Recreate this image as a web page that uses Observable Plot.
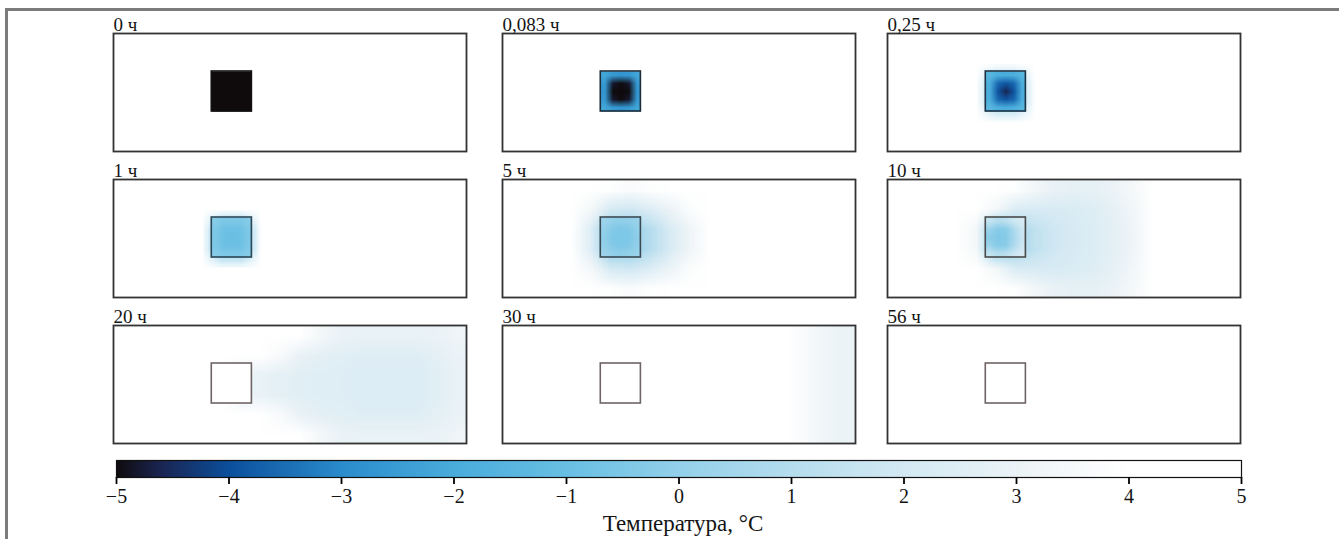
<!DOCTYPE html>
<html><head><meta charset="utf-8">
<script src="https://cdn.jsdelivr.net/npm/d3@7"></script>
<script src="https://cdn.jsdelivr.net/npm/@observablehq/plot@0.6"></script>
<style>
html,body{margin:0;padding:0;background:#fff;}
#page{position:relative;width:1339px;height:539px;overflow:hidden;background:#fff;font-family:"Liberation Serif",serif;}
#edge{position:absolute;left:5px;top:8px;width:1400px;height:600px;border-left:3px solid #7b7b7b;border-top:3px solid #7b7b7b;}
.cell{position:absolute;}
</style></head><body><div id="page"><div id="edge"></div></div>
<script>
// ---- data ----
const times = ["0 ч", "0,083 ч", "0,25 ч", "1 ч", "5 ч", "10 ч", "20 ч", "30 ч", "56 ч"];
const domainX = [0, 8.8];
const domainY = [0, 2.95];
const blockX = [2.45, 3.45];
const blockY = [0.95, 1.95];

// temperature field around block (18 columns x 6 rows, top to bottom), °C
const calm = [5,5,5,5,5,5,5,5,5,5,5,5,5,5,5,5,5,5];
const field0 = [calm, calm, calm, calm, calm, calm];
const field1 = [calm, calm,
  [5,5,5,5,5,4,4,5,5,5,5,5,5,5,5,5,5,5],
  [5,5,5,5,5,4,4,5,5,5,5,5,5,5,5,5,5,5],
  calm, calm];
const field2 = [calm, calm,
  [5,5,5,5,5,0.5,0.5,5,5,5,5,5,5,5,5,5,5,5],
  [5,5,5,5,5,0.5,0.5,5,5,5,5,5,5,5,5,5,5,5],
  calm, calm];
const field3 = [calm,
  [5,5,5,5,5,4.5,4.5,5,5,5,5,5,5,5,5,5,5,5],
  [5,5,5,5,4.5,-0.5,-0.5,4.5,5,5,5,5,5,5,5,5,5,5],
  [5,5,5,5,4.5,-0.5,-0.5,4.5,5,5,5,5,5,5,5,5,5,5],
  [5,5,5,5,5,4.5,4.5,5,5,5,5,5,5,5,5,5,5,5],
  calm];
const field4 = [
  [5,5,5,5,4.4,3.9,3.7,3.9,4.3,4.8,5,5,5,5,5,5,5,5],
  [5,5,5,4.7,3.4,2.1,1.9,2.4,3.0,3.8,4.6,5,5,5,5,5,5,5],
  [5,5,5,4.2,2.4,0,0,1.0,2.2,3.2,4.2,4.9,5,5,5,5,5,5],
  [5,5,5,4.2,2.4,0,0,1.0,2.2,3.2,4.2,4.9,5,5,5,5,5,5],
  [5,5,5,4.7,3.4,2.1,1.9,2.4,3.0,3.8,4.6,5,5,5,5,5,5,5],
  [5,5,5,5,4.4,3.9,3.7,3.9,4.3,4.8,5,5,5,5,5,5,5,5]];
const field5 = [
  [5,5,5,5,5,4.5,3.9,3.3,2.9,2.8,2.8,3.0,3.5,4.5,5,5,5,5],
  [5,5,5,5,4.5,3.4,2.3,2.2,2.2,2.3,2.5,2.8,3.3,4.4,5,5,5,5],
  [5,5,5,5,3.4,0,0.5,1.4,1.9,2.2,2.4,2.7,3.2,4.4,5,5,5,5],
  [5,5,5,5,3.4,0,0.5,1.4,1.9,2.2,2.4,2.7,3.2,4.4,5,5,5,5],
  [5,5,5,5,4.5,3.4,2.3,2.2,2.2,2.3,2.5,2.8,3.3,4.4,5,5,5,5],
  [5,5,5,5,5,4.5,3.9,3.3,2.9,2.8,2.8,3.0,3.5,4.5,5,5,5,5]];
const field6 = [
  [5,5,5,5,5,5,5,5,5,4.2,3.4,3.0,2.9,2.9,2.9,2.9,3.0,3.2],
  [5,5,5,5,5,5,5,4.5,3.6,2.9,2.7,2.6,2.5,2.5,2.5,2.5,2.7,3.0],
  [5,5,5,5,5,5,3.0,2.9,2.7,2.6,2.5,2.5,2.4,2.4,2.4,2.4,2.6,2.9],
  [5,5,5,5,5,5,3.0,2.9,2.7,2.6,2.5,2.5,2.4,2.4,2.4,2.4,2.6,2.9],
  [5,5,5,5,5,5,5,4.5,3.6,2.9,2.7,2.6,2.5,2.5,2.5,2.5,2.7,3.0],
  [5,5,5,5,5,5,5,5,5,4.2,3.4,3.0,2.9,2.9,2.9,2.9,3.0,3.2]];
const field7 = [
  [5,5,5,5,5,5,5,5,5,5,5,5,5,4.8,4.2,3.6,3.2,3.0],
  [5,5,5,5,5,5,5,5,5,5,5,5,5,4.8,4.2,3.6,3.2,3.0],
  [5,5,5,5,5,5,5,5,5,5,5,5,5,4.8,4.2,3.6,3.2,3.0],
  [5,5,5,5,5,5,5,5,5,5,5,5,5,4.8,4.2,3.6,3.2,3.0],
  [5,5,5,5,5,5,5,5,5,5,5,5,5,4.8,4.2,3.6,3.2,3.0],
  [5,5,5,5,5,5,5,5,5,5,5,5,5,4.8,4.2,3.6,3.2,3.0]];
const field8 = [calm, calm, calm, calm, calm, calm];
const fields = [field0, field1, field2, field3, field4, field5, field6, field7, field8];

// temperature inside the block (5 x 5, top to bottom), °C
const core0 = [[-5,-5,-5,-5,-5],[-5,-5,-5,-5,-5],[-5,-5,-5,-5,-5],[-5,-5,-5,-5,-5],[-5,-5,-5,-5,-5]];
const core1 = [[-2.2,-2.6,-2.7,-2.6,-2.2],[-2.6,-4.8,-5,-4.8,-2.6],[-2.7,-5,-5,-5,-2.7],[-2.6,-4.8,-5,-4.8,-2.6],[-2.2,-2.6,-2.7,-2.6,-2.2]];
const core2 = [[-1.5,-1.9,-2.0,-1.9,-1.5],[-1.9,-3.6,-3.9,-3.6,-1.9],[-2.0,-3.9,-4.6,-3.9,-2.0],[-1.9,-3.6,-3.9,-3.6,-1.9],[-1.5,-1.9,-2.0,-1.9,-1.5]];
const core3 = [[-0.3,-0.5,-0.5,-0.5,-0.3],[-0.5,-0.9,-0.9,-0.9,-0.5],[-0.5,-0.9,-1.0,-0.9,-0.5],[-0.5,-0.9,-0.9,-0.9,-0.5],[-0.3,-0.5,-0.5,-0.5,-0.3]];
const core4 = [[0.3,0.0,-0.1,0.0,0.2],[0.0,-0.4,-0.5,-0.4,0.0],[-0.1,-0.5,-0.5,-0.5,-0.1],[0.0,-0.4,-0.5,-0.4,0.0],[0.3,0.0,-0.1,0.0,0.2]];
const core5 = [[1.5,1.0,1.2,1.8,2.2],[0.2,-0.3,-0.2,0.8,1.8],[-0.2,-0.4,-0.3,0.6,1.7],[0.2,-0.3,-0.2,0.8,1.8],[1.5,1.0,1.2,1.8,2.2]];
const coreWarm = [[5,5,5,5,5],[5,5,5,5,5],[5,5,5,5,5],[5,5,5,5,5],[5,5,5,5,5]];
const cores = [core0, core1, core2, core3, core4, core5, coreWarm, coreWarm, coreWarm];

// colour bar
const colorStops = [-5, -4.6, -4, -3, -2, -1, 0, 1, 2, 3, 3.5, 4, 5];
const tickValues = [-5, -4, -3, -2, -1, 0, 1, 2, 3, 4, 5];
const tickLabels = ["−5", "−4", "−3", "−2", "−1", "0", "1", "2", "3", "4", "5"];
const barTitle = "Температура, °C";

// ---- styles ----
const colorRange = ["#0f0b0d", "#1a2552", "#0b4f9c", "#2a8ccc", "#49acdb", "#68bfe3", "#93d0ea",
  "#b5ddee", "#d3e9f3", "#ebf3f7", "#f6f9fa", "#ffffff", "#ffffff"];
const outlineColors = ["#111111", "#1d2d3a", "#1d3344", "#2c4756", "#3c4a54", "#4a4a4a", "#6e6464", "#6e6464", "#6e6464"];
const colLefts = [113, 502, 887];
const rowTops = [33, 179, 325];
const font = "Liberation Serif";

const page = document.getElementById("page");
const colorScale = {type: "linear", domain: colorStops, range: colorRange, clamp: true};

fields.forEach((field, i) => {
  const col = i % 3, row = Math.floor(i / 3);
  const chart = Plot.plot({
    width: 357, height: 144,
    marginTop: 24, marginLeft: 2, marginRight: 2, marginBottom: 2,
    x: {domain: domainX, axis: null},
    y: {domain: domainY, reverse: true, axis: null},
    color: colorScale,
    style: {background: "transparent", fontFamily: font},
    marks: [
      Plot.raster(field.flat(), {width: field[0].length, height: field.length,
        x1: domainX[0], x2: domainX[1], y1: domainY[0], y2: domainY[1], fill: (d) => d}),
      Plot.raster(cores[i].flat(), {width: cores[i][0].length, height: cores[i].length,
        x1: blockX[0], x2: blockX[1], y1: blockY[0], y2: blockY[1], fill: (d) => d}),
      Plot.rect([{x1: blockX[0], x2: blockX[1], y1: blockY[0], y2: blockY[1]}],
        {x1: "x1", x2: "x2", y1: "y1", y2: "y2", fill: "none", stroke: outlineColors[i], strokeWidth: 1.6}),
      Plot.frame({stroke: "#333333", strokeWidth: 1.8}),
      Plot.text([times[i]], {frameAnchor: "top-left", lineAnchor: "bottom", textAnchor: "start",
        dy: -3, fontSize: 19, fontFamily: font, fill: "#141414"})
    ]
  });
  const div = document.createElement("div");
  div.className = "cell";
  div.style.left = (colLefts[col] - 2) + "px";
  div.style.top = (rowTops[row] - 24) + "px";
  div.appendChild(chart);
  page.appendChild(div);
});

const bar = Plot.plot({
  width: 1290, height: 100,
  marginLeft: 116, marginRight: 49, marginTop: 10, marginBottom: 73,
  x: {domain: [-5, 5]},
  y: {domain: [0, 1], axis: null},
  color: colorScale,
  style: {background: "transparent", fontFamily: font},
  marks: [
    Plot.raster({fill: (x, y) => x, x1: -5, x2: 5, y1: 0, y2: 1, pixelSize: 1}),
    Plot.frame({stroke: "#111", strokeWidth: 1.2}),
    Plot.axisX({ticks: tickValues, tickFormat: (d, i) => tickLabels[i], tickSize: 7, tickPadding: 4,
      strokeWidth: 1.8, fontSize: 20, fontFamily: font, fill: "#141414", label: null}),
    Plot.text([barTitle], {frameAnchor: "bottom", lineAnchor: "middle", dy: 46, dx: 4,
      fontSize: 23, fontFamily: font, fill: "#141414"})
  ]
});
const bdiv = document.createElement("div");
bdiv.className = "cell";
bdiv.style.left = "0px";
bdiv.style.top = "450px";
bdiv.appendChild(bar);
page.appendChild(bdiv);
</script></body></html>
